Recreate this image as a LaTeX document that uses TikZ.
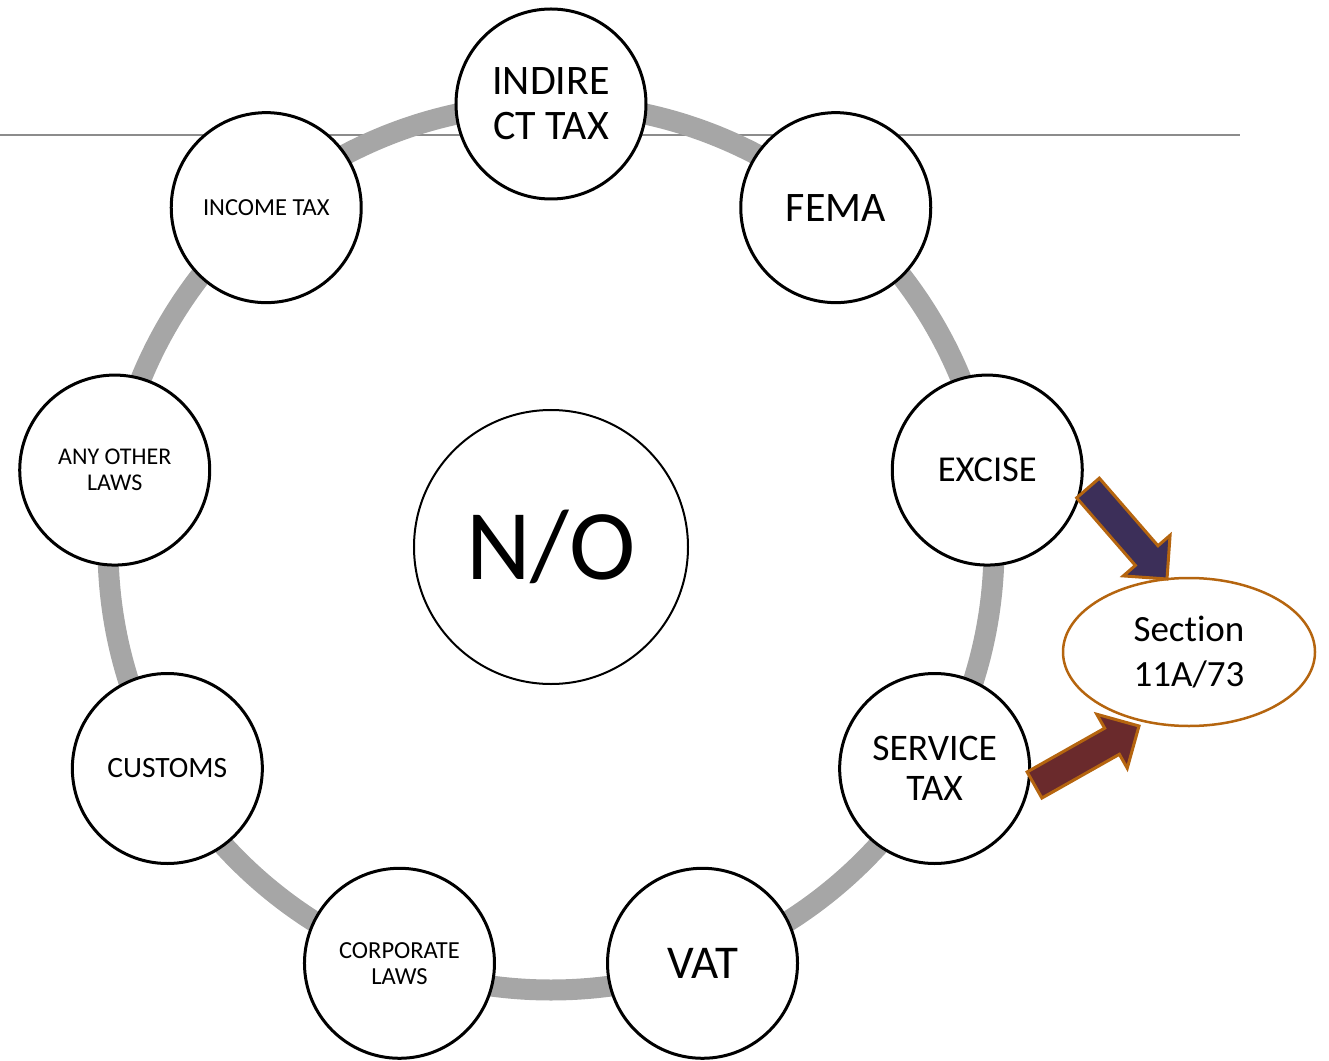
\documentclass[tikz,border=0pt]{standalone}
\usepackage{fontspec}
\setmainfont{Carlito}[Ligatures=NoCommon]
\usetikzlibrary{shapes,calc}
\definecolor{ringgray}{HTML}{A6A6A6}
\definecolor{rulegray}{HTML}{8C8C8C}
\definecolor{edgebrown}{HTML}{B5650F}
\definecolor{arrowblue}{HTML}{3C2F59}
\definecolor{arrowred}{HTML}{6A2A2C}
\tikzstyle{nd}=[circle,draw=black,line width=3pt,fill=white,minimum size=190pt,inner sep=0pt,align=center]
\tikzstyle{ring}=[draw=ringgray,line width=21pt]
\tikzstyle{arrowline}=[draw=edgebrown,line width=3pt,line join=miter]
\newcommand{\fs}[2]{\fontsize{#1}{#2}\selectfont}
\newcommand{\blockarrow}[3]{%
  \coordinate (hb) at ($(#2)!31pt!(#1)$);
  \draw[arrowline,fill=#3] ($(#1)!15pt!90:(#2)$) -- ($(hb)!15pt!90:(#2)$) -- ($(hb)!31pt!90:(#2)$) -- (#2)
    -- ($(hb)!31pt!-90:(#2)$) -- ($(hb)!15pt!-90:(#2)$) -- ($(#1)!15pt!-90:(#2)$) -- cycle;}

\begin{document}
\begin{tikzpicture}[x=1pt,y=1pt]
\useasboundingbox (-551,-513) rectangle (778,547);
\coordinate (o) at (0,0);
\draw[rulegray,line width=1.5pt] (-551,412) -- (689,412);
\draw[ring] (o) circle (443pt);
\node[nd,line width=2pt,minimum size=274pt,font=\fs{100}{110}] (no) at (o) {N/O};
\node[nd,font=\fs{42}{45}] (indirect) at (90:443) {INDIRE\\CT TAX};
\node[nd,font=\fs{42}{45}] (fema) at (50:443) {FEMA};
\node[nd,font=\fs{36.5}{40}] (excise) at (10:443) {EXCISE};
\node[nd,font=\fs{37.5}{40}] (service) at (-30:443) {SERVICE\\TAX};
\node[nd,font=\fs{47}{50}] (vat) at (-70:443) {VAT};
\node[nd,font=\fs{24.5}{26}] (corporate) at (-110:443) {CORPORATE\\LAWS};
\node[nd,font=\fs{29.5}{32}] (customs) at (-150:443) {CUSTOMS};
\node[nd,font=\fs{24}{26}] (other) at (170:443) {ANY OTHER\\LAWS};
\node[nd,font=\fs{24.5}{26}] (income) at (130:443) {INCOME TAX};
% section box on the right
\node[ellipse,draw=edgebrown,line width=2.5pt,fill=white,minimum width=252pt,minimum height=148pt,inner sep=0pt,align=center,font=\fs{37}{45}] (section) at (638,-105) {Section\\11A/73};
\coordinate (bluetail) at (537,59);
\coordinate (bluetip) at (616,-32);
\coordinate (redtail) at (483.5,-238);
\coordinate (redtip) at (588,-179);
\blockarrow{bluetail}{bluetip}{arrowblue}
\blockarrow{redtail}{redtip}{arrowred}
\end{tikzpicture}
\end{document}
